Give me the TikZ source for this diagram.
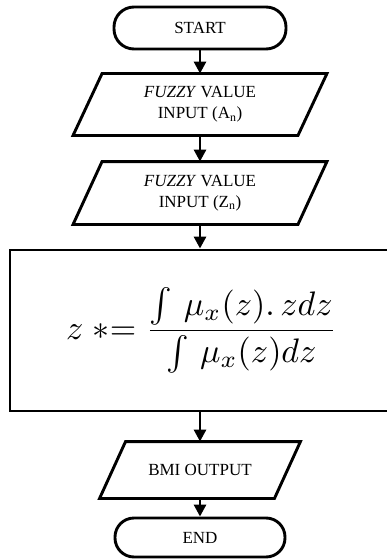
\documentclass[tikz,border=0pt]{standalone}
\usepackage{amsmath}
\usepackage{fontspec}
\setmainfont{Liberation Serif}
\usetikzlibrary{arrows.meta,calc}
\newcommand\ioframe[2]{\draw ([xshift=#2]#1.north west) -- ([xshift=#2]#1.north east) -- ([xshift=-#2]#1.south east) -- ([xshift=-#2]#1.south west) -- cycle;}
\begin{document}
\begin{tikzpicture}[x=1pt,y=-1pt,
  line width=2.9pt,
  term/.style={draw, rounded corners=20pt, minimum width=172pt, minimum height=42pt, inner sep=0pt, font=\fontsize{17}{21}\selectfont},
  iobox/.style={minimum width=222pt, inner sep=0pt, align=center, font=\fontsize{17}{21}\selectfont},
  procbox/.style={draw, minimum width=390pt, minimum height=161pt, inner sep=0pt},
  flow/.style={-{Triangle[width=12pt,length=12pt]}, line width=2.9pt}
]
\useasboundingbox (0,0) rectangle (387,559);
\node[term] (start) at (200,28) {START};
\node[iobox, minimum height=59pt] (in1) at (200,104.5) {\textit{FUZZY} VALUE\\INPUT (A\textsubscript{n})};
\ioframe{in1}{14.5pt}
\node[iobox, minimum height=60pt] (in2) at (200,193) {\textit{FUZZY} VALUE\\INPUT (Z\textsubscript{n})};
\ioframe{in2}{14.5pt}
\node[procbox] (calc) at (205,330.5) {\scalebox{3.4}{$z\;{\ast}{=}\;\dfrac{\int\,\mu_x(z).\,zdz}{\int\,\mu_x(z)dz}$}\hspace*{7pt}};
\node[iobox, minimum width=172pt, minimum height=54pt] (out) at (200,470) {BMI OUTPUT};
\ioframe{out}{13pt}
\node[term, minimum width=170pt, minimum height=39pt, rounded corners=19pt] (end) at (200,537.5) {END};
\draw[flow] (start) -- (in1);
\draw[flow] (in1) -- (in2);
\draw[flow] (in2.south) -- (in2.south |- calc.north);
\draw[flow] (calc.south -| out.north) -- (out.north);
\draw[flow] (out) -- (end);
\end{tikzpicture}
\end{document}
